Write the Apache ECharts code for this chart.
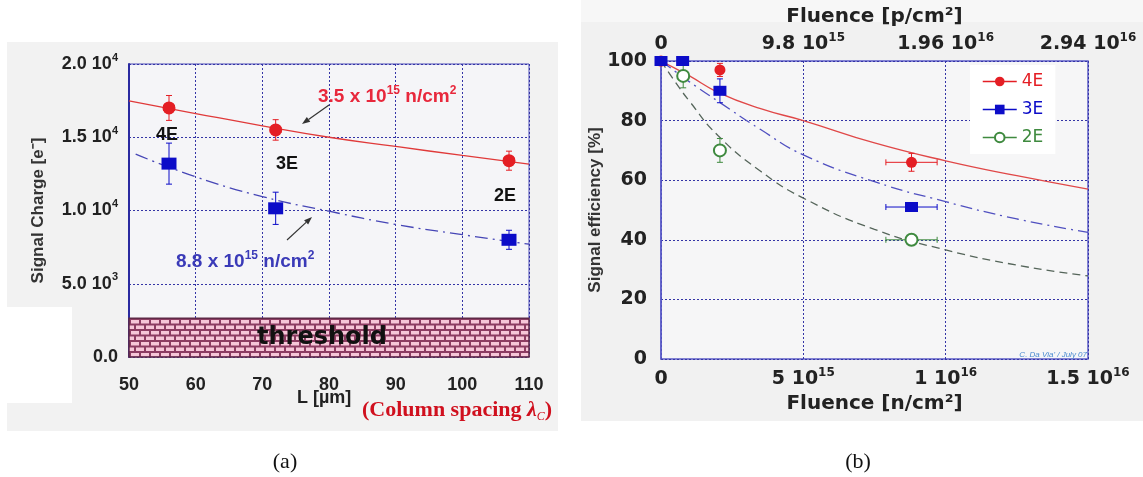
<!DOCTYPE html>
<html>
<head>
<meta charset="utf-8">
<script src="https://cdn.jsdelivr.net/npm/echarts@6/dist/echarts.min.js"></script>
<style>
html, body { margin: 0; padding: 0; background: #fff; }
#main { width: 1143px; height: 477px; }
</style>
</head>
<body>
<div id="main"></div>
<script>
// ---- panel (a): signal charge vs column spacing ----
var spacing = [56, 72, 107];
var spacingErr = [0.8, 0.8, 0.8];
var charge4E = [17000, 15500, 13400];
var charge4EErr = [850, 700, 650];
var charge3E = [13200, 10150, 8000];
var charge3EErr = [1400, 1100, 650];
var fitSpacing4E = [50, 60, 70, 80, 90, 100, 110];
var fitCharge4E = [17480, 16620, 15780, 15000, 14370, 13760, 13170];
var fitSpacing3E = [51, 60, 70, 80, 90, 100, 110];
var fitCharge3E = [13850, 12300, 10950, 9950, 9050, 8350, 7700];
var thresholdCharge = 2650;
var chargeTicks = [0, 5000, 10000, 15000, 20000];
var chargeTickLabels = [['0.0', ''], ['5.0 10', '3'], ['1.0 10', '4'], ['1.5 10', '4'], ['2.0 10', '4']];

// ---- panel (b): signal efficiency vs fluence (x in units of 1e15) ----
var fluence4E = [0, 2.07, 8.8];
var fluence4EErr = [0, 0, 0.9];
var eff4E = [100, 97, 66];
var eff4EErr = [0, 2.2, 3];
var fluence3E = [0, 0.76, 2.07, 8.8];
var fluence3EErr = [0, 0, 0, 0.9];
var eff3E = [100, 100, 90, 51];
var eff3EErr = [0, 0, 4, 1.5];
var fluence2E = [0.78, 2.07, 8.8];
var fluence2EErr = [0, 0, 0.9];
var eff2E = [95, 70, 40];
var eff2EErr = [4, 4, 1];
var fitFluence = [0, 0.5, 1, 2, 3.5, 5, 7.5, 10, 12.5, 15];
var fitEff4E = [100, 97.5, 95, 89.5, 84, 80, 72.5, 66.5, 61.5, 57];
var fitEff3E = [100, 96.5, 93, 86.5, 77, 68.5, 59.5, 52.8, 47, 42.5];
var fitEff2E = [100, 93, 86.5, 75, 63, 54, 43.5, 36.6, 31.5, 27.9];
var neutronTicks = [0, 5, 10, 15];
var neutronTickLabels = [['0', ''], ['5 10', '15'], ['1 10', '16'], ['1.5 10', '16']];
var protonTicks = [0, 9.8, 19.6, 29.4];
var protonTickLabels = [['0', ''], ['9.8 10', '15'], ['1.96 10', '16'], ['2.94 10', '16']];

var RED = '#e41e24', BLUE = '#0c0cc8', GREEN = '#3f8a3f';
var SANS = 'Liberation Sans', WIDE = 'DejaVu Sans', SERIF = 'Liberation Serif';

function zip(xs, ys, ex, ey) {
    return xs.map(function (x, i) {
        return ex ? [x, ys[i], ex[i], ey[i]] : [x, ys[i]];
    });
}

function supLabel(ticks, labels) {
    return function (v) {
        for (var i = 0; i < ticks.length; i++) {
            if (Math.abs(ticks[i] - v) < 1e-6) {
                var l = labels[i];
                return l[1] ? '{m|' + l[0] + '}{s|' + l[1] + '}' : '{m|' + l[0] + '}';
            }
        }
        return '';
    };
}

// rich styles for "x 10^n" text; color for axis labels, fill for graphic text
function supRich(font, size, color) {
    return {
        m: { fontFamily: font, fontSize: size, fontWeight: 'bold', color: color, fill: color, lineHeight: size + 6 },
        s: { fontFamily: font, fontSize: Math.round(size * 0.62), fontWeight: 'bold', color: color, fill: color, verticalAlign: 'top' }
    };
}

// error bars drawn through the axes
function errorBars(params, api) {
    var x = api.value(0), y = api.value(1), dx = api.value(2), dy = api.value(3);
    var c = api.coord([x, y]);
    var style = { stroke: api.visual('color'), lineWidth: 1 };
    var cap = 3, kids = [];
    if (dy > 0) {
        var t = api.coord([x, y + dy])[1], b = api.coord([x, y - dy])[1];
        kids.push({ type: 'line', shape: { x1: c[0], y1: t, x2: c[0], y2: b }, style: style });
        kids.push({ type: 'line', shape: { x1: c[0] - cap, y1: t, x2: c[0] + cap, y2: t }, style: style });
        kids.push({ type: 'line', shape: { x1: c[0] - cap, y1: b, x2: c[0] + cap, y2: b }, style: style });
    }
    if (dx > 0) {
        var l = api.coord([x - dx, y])[0], r = api.coord([x + dx, y])[0];
        kids.push({ type: 'line', shape: { x1: l, y1: c[1], x2: r, y2: c[1] }, style: style });
        kids.push({ type: 'line', shape: { x1: l, y1: c[1] - cap, x2: l, y2: c[1] + cap }, style: style });
        kids.push({ type: 'line', shape: { x1: r, y1: c[1] - cap, x2: r, y2: c[1] + cap }, style: style });
    }
    return { type: 'group', children: kids };
}

// brick fill for the threshold band
function brickPattern() {
    var cv = document.createElement('canvas');
    cv.width = 20; cv.height = 11;
    var ctx = cv.getContext('2d');
    ctx.fillStyle = '#8c3c62';
    ctx.fillRect(0, 0, 20, 11);
    ctx.fillStyle = '#f6c6d8';
    ctx.fillRect(1, 1, 8, 3.5); ctx.fillRect(11, 1, 8, 3.5);
    ctx.fillRect(-4, 6.5, 8, 3.5); ctx.fillRect(6, 6.5, 8, 3.5); ctx.fillRect(16, 6.5, 8, 3.5);
    return cv;
}

function arrow(x1, y1, x2, y2) {
    var a = Math.atan2(y2 - y1, x2 - x1), L = 8, W = 3;
    var bx = x2 - L * Math.cos(a), by = y2 - L * Math.sin(a);
    return [
        { type: 'line', z: 50, shape: { x1: x1, y1: y1, x2: bx, y2: by }, style: { stroke: '#333', lineWidth: 1.2 } },
        { type: 'polygon', z: 50, shape: { points: [[x2, y2],
            [bx + W * Math.sin(a), by - W * Math.cos(a)], [bx - W * Math.sin(a), by + W * Math.cos(a)]] },
          style: { fill: '#333' } }
    ];
}

function txt(x, y, text, style) {
    var s = { x: x, y: y, text: text, textVerticalAlign: 'middle', verticalAlign: 'middle' };
    for (var k in style) s[k] = style[k];
    return { type: 'text', z: 60, style: s };
}

var dotted = { color: '#3434a6', type: [2, 2], width: 1 };

var chart = echarts.init(document.getElementById('main'));

chart.setOption({
    animation: false,
    backgroundColor: '#fff',
    grid: [
        { left: 129, top: 64, width: 400, height: 293, show: true, backgroundColor: '#f5f5f8',
          borderColor: '#4a4ab8', borderWidth: 1, outerBoundsMode: 'none' },
        { left: 661, top: 61, width: 427, height: 298, show: true, backgroundColor: '#f6f6f7',
          borderColor: '#5c5cc8', borderWidth: 1.5, outerBoundsMode: 'none' }
    ],
    xAxis: [
        { gridIndex: 0, type: 'value', min: 50, max: 110, interval: 10,
          axisLine: { show: false }, axisTick: { show: false },
          splitLine: { show: true, lineStyle: dotted },
          axisLabel: { margin: 19, fontFamily: SANS, fontSize: 18, fontWeight: 'bold', color: '#222',
                       showMinLabel: true, showMaxLabel: true } },
        { gridIndex: 1, type: 'value', min: 0, max: 15, interval: 5, position: 'bottom',
          axisLine: { show: false }, axisTick: { show: false },
          splitLine: { show: true, lineStyle: dotted },
          name: 'Fluence [n/cm²]', nameLocation: 'middle', nameGap: 35,
          nameTextStyle: { fontFamily: WIDE, fontSize: 20, fontWeight: 'bold', color: '#222' },
          axisLabel: { margin: 8, formatter: supLabel(neutronTicks, neutronTickLabels),
                       rich: supRich(WIDE, 19, '#222'), showMinLabel: true, showMaxLabel: true } },
        { gridIndex: 1, type: 'value', min: 0, max: 29.4, interval: 9.8, position: 'top',
          axisLine: { show: false }, axisTick: { show: false }, splitLine: { show: false },
          name: 'Fluence [p/cm²]', nameLocation: 'middle', nameGap: 33,
          nameTextStyle: { fontFamily: WIDE, fontSize: 20, fontWeight: 'bold', color: '#222' },
          axisLabel: { margin: 4, formatter: supLabel(protonTicks, protonTickLabels),
                       rich: supRich(WIDE, 19, '#222'), showMinLabel: true, showMaxLabel: true } }
    ],
    yAxis: [
        { gridIndex: 0, type: 'value', min: 0, max: 20000, interval: 5000,
          name: 'Signal Charge [e⁻]', nameLocation: 'middle', nameGap: 82,
          nameTextStyle: { fontFamily: SANS, fontSize: 17, fontWeight: 'bold', color: '#333' },
          axisLine: { show: true, lineStyle: { color: '#2a2aa0', width: 2 } }, axisTick: { show: false },
          splitLine: { show: true, lineStyle: dotted },
          axisLabel: { margin: 11, formatter: supLabel(chargeTicks, chargeTickLabels),
                       rich: supRich(SANS, 18, '#222') } },
        { gridIndex: 1, type: 'value', min: 0, max: 100, interval: 20,
          name: 'Signal efficiency [%]', nameLocation: 'middle', nameGap: 53,
          nameTextStyle: { fontFamily: SANS, fontSize: 17, fontWeight: 'bold', color: '#333' },
          axisLine: { show: true, lineStyle: { color: '#5c5cc8', width: 1.5 } }, axisTick: { show: false },
          splitLine: { show: true, lineStyle: dotted },
          axisLabel: { margin: 14, fontFamily: WIDE, fontSize: 19, fontWeight: 'bold', color: '#222' } }
    ],
    legend: {
        orient: 'vertical', left: 970, top: 65, padding: [8, 12, 8, 12], backgroundColor: '#fff',
        itemWidth: 34, itemHeight: 12, itemGap: 11,
        lineStyle: { opacity: 1, width: 1.5 },
        textStyle: { fontFamily: WIDE, fontSize: 17 },
        data: [
            { name: '4E', textStyle: { color: RED } },
            { name: '3E', textStyle: { color: BLUE } },
            { name: '2E', textStyle: { color: GREEN } }
        ]
    },
    series: [
        // (a) fits and threshold
        { type: 'line', xAxisIndex: 0, yAxisIndex: 0, data: zip(fitSpacing4E, fitCharge4E), smooth: true,
          showSymbol: false, lineStyle: { color: '#e03a3a', width: 1.3 }, z: 3,
          markArea: { silent: true, z: 4,
              itemStyle: { color: { image: brickPattern(), repeat: 'repeat' }, borderColor: '#5e2846', borderWidth: 1.5 },
              label: { show: true, position: 'inside', offset: [-7, 0], formatter: 'threshold',
                       fontFamily: WIDE, fontSize: 24, fontWeight: 'bold', color: '#111' },
              data: [[{ xAxis: 50, yAxis: 0 }, { xAxis: 110, yAxis: thresholdCharge }]] } },
        { type: 'line', xAxisIndex: 0, yAxisIndex: 0, data: zip(fitSpacing3E, fitCharge3E), smooth: true,
          showSymbol: false, lineStyle: { color: '#4646b6', width: 1.3, type: [13, 5, 2, 5] }, z: 3 },
        { type: 'custom', xAxisIndex: 0, yAxisIndex: 0, renderItem: errorBars, itemStyle: { color: RED },
          encode: { x: 0, y: 1 }, data: zip(spacing, charge4E, spacingErr, charge4EErr), z: 5 },
        { type: 'custom', xAxisIndex: 0, yAxisIndex: 0, renderItem: errorBars, itemStyle: { color: BLUE },
          encode: { x: 0, y: 1 }, data: zip(spacing, charge3E, spacingErr, charge3EErr), z: 5 },
        { type: 'scatter', xAxisIndex: 0, yAxisIndex: 0, data: zip(spacing, charge4E), symbol: 'circle',
          symbolSize: 13, itemStyle: { color: RED, opacity: 1 }, z: 6 },
        { type: 'scatter', xAxisIndex: 0, yAxisIndex: 0, data: zip(spacing, charge3E), symbol: 'rect',
          symbolSize: [15, 12], itemStyle: { color: BLUE, opacity: 1 }, z: 6 },

        // (b) fits
        { type: 'line', xAxisIndex: 1, yAxisIndex: 1, data: zip(fitFluence, fitEff4E), smooth: true,
          showSymbol: false, lineStyle: { color: '#e04848', width: 1.3 }, z: 3 },
        { type: 'line', xAxisIndex: 1, yAxisIndex: 1, data: zip(fitFluence, fitEff3E), smooth: true,
          showSymbol: false, lineStyle: { color: '#5050c0', width: 1.3, type: [12, 5, 2, 5] }, z: 3 },
        { type: 'line', xAxisIndex: 1, yAxisIndex: 1, data: zip(fitFluence, fitEff2E), smooth: true,
          showSymbol: false, lineStyle: { color: '#55655a', width: 1.3, type: [8, 5] }, z: 3 },
        // (b) error bars
        { type: 'custom', xAxisIndex: 1, yAxisIndex: 1, renderItem: errorBars, itemStyle: { color: RED },
          encode: { x: 0, y: 1 }, data: zip(fluence4E, eff4E, fluence4EErr, eff4EErr), z: 5 },
        { type: 'custom', xAxisIndex: 1, yAxisIndex: 1, renderItem: errorBars, itemStyle: { color: BLUE },
          encode: { x: 0, y: 1 }, data: zip(fluence3E, eff3E, fluence3EErr, eff3EErr), z: 5 },
        { type: 'custom', xAxisIndex: 1, yAxisIndex: 1, renderItem: errorBars, itemStyle: { color: GREEN },
          encode: { x: 0, y: 1 }, data: zip(fluence2E, eff2E, fluence2EErr, eff2EErr), z: 5 },
        // (b) points (line type so the legend shows line + marker)
        { name: '4E', type: 'line', xAxisIndex: 1, yAxisIndex: 1, data: zip(fluence4E, eff4E),
          symbol: 'circle', symbolSize: 11, showSymbol: true, color: RED,
          itemStyle: { color: RED }, lineStyle: { color: RED, opacity: 0 }, z: 6 },
        { name: '3E', type: 'line', xAxisIndex: 1, yAxisIndex: 1, data: zip(fluence3E, eff3E),
          symbol: 'rect', symbolSize: [13, 10], showSymbol: true, color: BLUE,
          itemStyle: { color: BLUE }, lineStyle: { color: BLUE, opacity: 0 }, z: 7 },
        { name: '2E', type: 'line', xAxisIndex: 1, yAxisIndex: 1, data: zip(fluence2E, eff2E),
          symbol: 'emptyCircle', symbolSize: 12, showSymbol: true, color: GREEN,
          itemStyle: { color: GREEN, borderColor: GREEN, borderWidth: 1.5 },
          lineStyle: { color: GREEN, opacity: 0 }, z: 6 }
    ],
    graphic: [].concat(
        [
            { type: 'rect', z: -10, shape: { x: 7, y: 42, width: 551, height: 389 }, style: { fill: '#f2f2f2' } },
            { type: 'rect', z: -9, shape: { x: 7, y: 307, width: 65, height: 96 }, style: { fill: '#ffffff' } },
            { type: 'rect', z: -10, shape: { x: 581, y: 0, width: 562, height: 421 }, style: { fill: '#f1f1f1' } },
            { type: 'rect', z: -9, shape: { x: 581, y: 0, width: 562, height: 22 }, style: { fill: '#f7f7f7' } },
            txt(167, 135, '4E', { font: 'bold 18px "Liberation Sans"', fill: '#111', textAlign: 'center', align: 'center' }),
            txt(287, 164, '3E', { font: 'bold 18px "Liberation Sans"', fill: '#111', textAlign: 'center', align: 'center' }),
            txt(505, 196, '2E', { font: 'bold 18px "Liberation Sans"', fill: '#111', textAlign: 'center', align: 'center' }),
            txt(318, 97, '{m|3.5 x 10}{s|15}{m| n/cm}{s|2}', { rich: supRich(SANS, 19, '#e8283c') }),
            txt(176, 262, '{m|8.8 x 10}{s|15}{m| n/cm}{s|2}', { rich: supRich(SANS, 19, '#3a3ab8') }),
            txt(297, 398, 'L [µm]', { font: 'bold 18px "Liberation Sans"', fill: '#222' }),
            txt(362, 410, '{a|(Column spacing }{l|λ}{c|C}{a|)}', { rich: {
                a: { fontFamily: SERIF, fontSize: 22, fontWeight: 'bold', fill: '#d0101e', lineHeight: 26 },
                l: { fontFamily: SERIF, fontSize: 22, fontWeight: 'bold', fontStyle: 'italic', fill: '#d0101e', lineHeight: 26 },
                c: { fontFamily: SERIF, fontSize: 12, fontStyle: 'italic', fill: '#d0101e', verticalAlign: 'bottom' } } }),
            txt(1087, 355, "C. Da Via' / July 07", { font: 'italic 8px "Liberation Sans"', fill: '#4a8ad0', textAlign: 'right', align: 'right' }),
            txt(285, 462, '(a)', { font: '22px "Liberation Serif"', fill: '#111', textAlign: 'center', align: 'center' }),
            txt(858, 462, '(b)', { font: '22px "Liberation Serif"', fill: '#111', textAlign: 'center', align: 'center' })
        ],
        arrow(329, 105, 302, 124),
        arrow(287, 240, 312, 217)
    )
});
</script>
</body>
</html>
